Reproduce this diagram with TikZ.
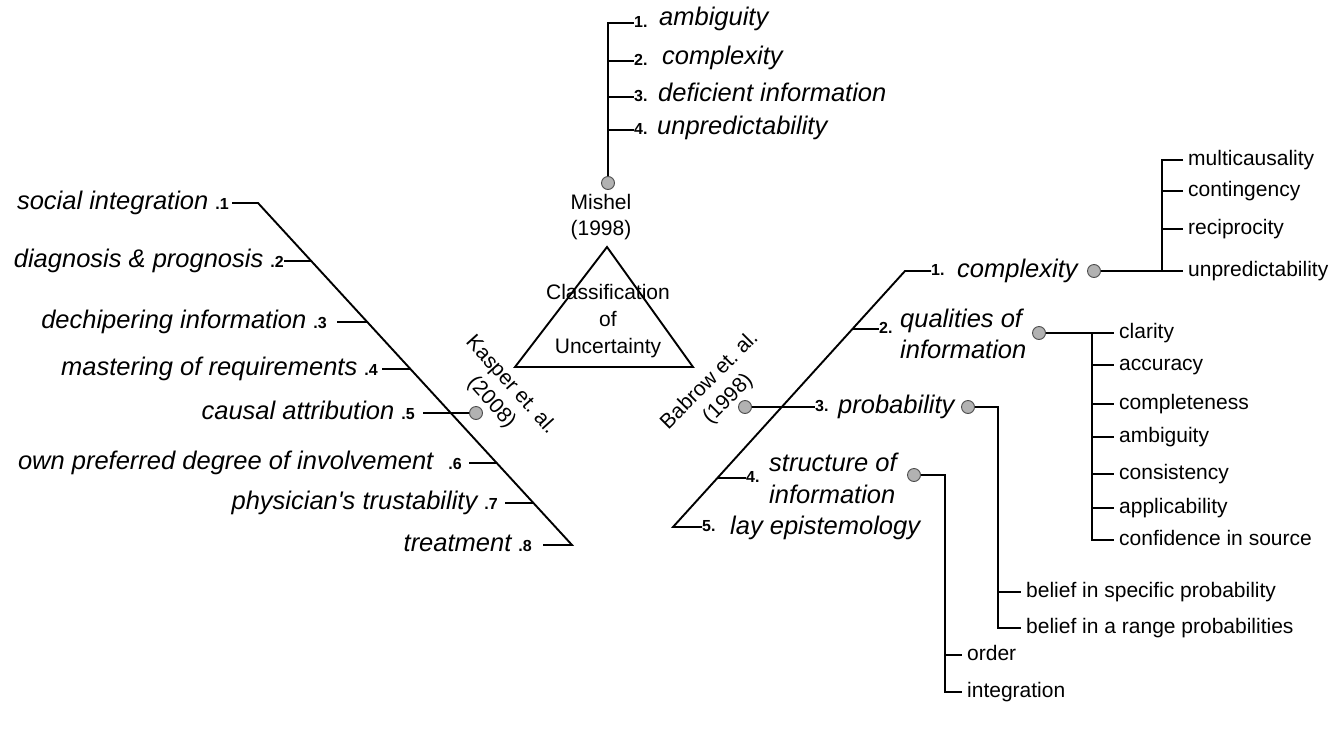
\documentclass[tikz,border=0pt]{standalone}
\usepackage{fontspec}
\setmainfont{Liberation Sans}
\newcommand\numfnt{\fontsize{16}{18}\selectfont\bfseries\upshape}
\begin{document}
\frenchspacing
\begin{tikzpicture}[x=1pt,y=-1pt,
  ln/.style={line width=1.9pt},
  dot/.style={circle,draw=black!70,fill=black!30,line width=0.9pt,minimum size=13pt,inner sep=0pt},
  itx/.style={font=\fontsize{25.5}{29}\selectfont\itshape,inner sep=0pt,anchor=base west},
  lft/.style={font=\fontsize{25.5}{29}\selectfont\itshape,inner sep=0pt,text height=18pt,text depth=5pt,anchor=east},
  nmb/.style={font=\numfnt,inner sep=0pt,text height=8pt,text depth=0pt,anchor=west},
  sub/.style={font=\fontsize{21}{25}\selectfont,inner xsep=5pt,inner ysep=0pt,text height=15pt,text depth=4.5pt,anchor=west},
  rgl/.style={font=\fontsize{21}{26}\selectfont,inner sep=0pt,align=center},
]
\useasboundingbox (0,0) rectangle (1339,742);

% ---------- centre triangle ----------
\coordinate (ta) at (607,247);
\coordinate (tl) at (515,367);
\coordinate (tr) at (693,367);
\draw[ln] (ta) -- (tl) -- (tr) -- cycle;
\node[rgl,font=\fontsize{21}{27}\selectfont] (cls) at (608,321) {Classification\\of\\Uncertainty};

% ---------- Mishel ----------
\node[dot] (mdot) at (608,183) {};
\node[rgl] (mishel) at (601,217) {Mishel\\(1998)};
\coordinate (mtop) at (608,23);
\node[nmb] (m1) at (634,23) {1.};
\node[itx] (m1t) at (659,25.5) {ambiguity};
\node[nmb] (m2) at (634,61) {2.};
\node[itx] (m2t) at (662,64) {complexity};
\node[nmb] (m3) at (634,97) {3.};
\node[itx] (m3t) at (658,101) {deficient information};
\node[nmb] (m4) at (634,130) {4.};
\node[itx] (m4t) at (657,134) {unpredictability};
\draw[ln] (mdot.north) -- (mtop) -- (m1.west);
\draw[ln] (m2.west -| mtop) -- (m2.west);
\draw[ln] (m3.west -| mtop) -- (m3.west);
\draw[ln] (m4.west -| mtop) -- (m4.west);

% ---------- Kasper ----------
\node[rgl,rotate=-48] (kasper) at (501,394) {Kasper et.\ al.\\(2008)};
\node[dot] (kdot) at (476,413) {};
\node[lft] (l1) at (229,203) {social integration {\numfnt .1}};
\node[lft] (l2) at (284,261) {diagnosis \& prognosis {\numfnt .2}};
\node[lft] (l3) at (327,322) {dechipering information {\numfnt .3}};
\node[lft] (l4) at (378,369) {mastering of requirements {\numfnt .4}};
\node[lft] (l5) at (415,413) {causal attribution {\numfnt .5}};
\node[lft] (l6) at (462,463) {own preferred degree of involvement\hspace{8pt} {\numfnt .6}};
\node[lft] (l7) at (498,503) {physician\textquotesingle s trustability {\numfnt .7}};
\node[lft] (l8) at (532,545) {treatment {\numfnt .8}};
\coordinate (ktop) at (258,203);
\coordinate (kbot) at (572,545);
\coordinate (k2) at (311.2,261);
\coordinate (k3) at (367.2,322);
\coordinate (k4) at (410.4,369);
\coordinate (k6) at (496.7,463);
\coordinate (k7) at (533.4,503);
\draw[ln,shorten <=3pt,shorten >=11pt] (l1.east) -- (ktop) -- (kbot) -- (l8.east);
\draw[ln] (l2.east) -- (k2);
\draw[ln,shorten <=10pt] (l3.east) -- (k3);
\draw[ln,shorten <=4pt] (l4.east) -- (k4);
\draw[ln,shorten <=8pt] (l5.east) -- (kdot.west);
\draw[ln,shorten <=7pt] (l6.east) -- (k6);
\draw[ln,shorten <=7pt] (l7.east) -- (k7);

% ---------- Babrow ----------
\node[rgl,rotate=45] (babrow) at (719,390) {Babrow et.\ al.\\(1998)};
\node[dot] (bdot) at (745,407) {};
\coordinate (rtop) at (905,271);
\coordinate (rbot) at (673,527);
\coordinate (r2b) at (852.4,329);
\coordinate (r4b) at (717.4,478);
\node[nmb] (r1) at (931,271) {1.};
\node[itx] (r1t) at (957,277) {complexity};
\node[nmb] (r2) at (879,329) {2.};
\node[itx] (r2a) at (900,327) {qualities of};
\node[itx] (r2c) at (900,358) {information};
\node[nmb] (r3) at (815,407) {3.};
\node[itx] (r3t) at (838,413) {probability};
\node[nmb] (r4) at (746,478) {4.};
\node[itx] (r4a) at (769,471) {structure of};
\node[itx] (r4c) at (769,503) {information};
\node[nmb] (r5) at (702,527) {5.};
\node[itx] (r5t) at (730,534) {lay epistemology};
\draw[ln] (r1.west) -- (rtop) -- (rbot) -- (r5.west);
\draw[ln] (r2b) -- (r2.west);
\draw[ln] (bdot.east) -- (r3.west);
\draw[ln] (r4b) -- (r4.west);

% complexity sub-list
\node[dot] (c1dot) at (1094,271) {};
\coordinate (c1v) at (1162,271);
\node[sub] (b1) at (1183,160) {multicausality};
\node[sub] (b2) at (1183,191) {contingency};
\node[sub] (b3) at (1183,229) {reciprocity};
\node[sub] (b4) at (1183,271) {unpredictability};
\draw[ln] (c1dot.east) -- (b4.west);
\draw[ln] (b1.west) -- (b1.west -| c1v) -- (c1v);
\draw[ln] (b2.west -| c1v) -- (b2.west);
\draw[ln] (b3.west -| c1v) -- (b3.west);

% qualities sub-list
\node[dot] (q2dot) at (1039,333) {};
\coordinate (q2v) at (1092,333);
\node[sub] (a1) at (1114,333) {clarity};
\node[sub] (a2) at (1114,365) {accuracy};
\node[sub] (a3) at (1114,404) {completeness};
\node[sub] (a4) at (1114,437) {ambiguity};
\node[sub] (a5) at (1114,474) {consistency};
\node[sub] (a6) at (1114,508) {applicability};
\node[sub] (a7) at (1114,540) {confidence in source};
\draw[ln] (q2dot.east) -- (a1.west);
\draw[ln] (q2v) -- (a7.west -| q2v) -- (a7.west);
\draw[ln] (a2.west -| q2v) -- (a2.west);
\draw[ln] (a3.west -| q2v) -- (a3.west);
\draw[ln] (a4.west -| q2v) -- (a4.west);
\draw[ln] (a5.west -| q2v) -- (a5.west);
\draw[ln] (a6.west -| q2v) -- (a6.west);

% probability sub-list
\node[dot] (pdot) at (968,407) {};
\coordinate (pv) at (998,407);
\node[sub] (e1) at (1021,592) {belief in specific probability};
\node[sub] (e2) at (1021,628) {belief in a range probabilities};
\draw[ln] (pdot.east) -- (pv) -- (e2.west -| pv) -- (e2.west);
\draw[ln] (e1.west -| pv) -- (e1.west);

% structure sub-list
\node[dot] (sdot) at (914,475) {};
\coordinate (sv) at (945,475);
\node[sub] (o1) at (962,655) {order};
\node[sub] (o2) at (962,692) {integration};
\draw[ln] (sdot.east) -- (sv) -- (o2.west -| sv) -- (o2.west);
\draw[ln] (o1.west -| sv) -- (o1.west);
\end{tikzpicture}
\end{document}
